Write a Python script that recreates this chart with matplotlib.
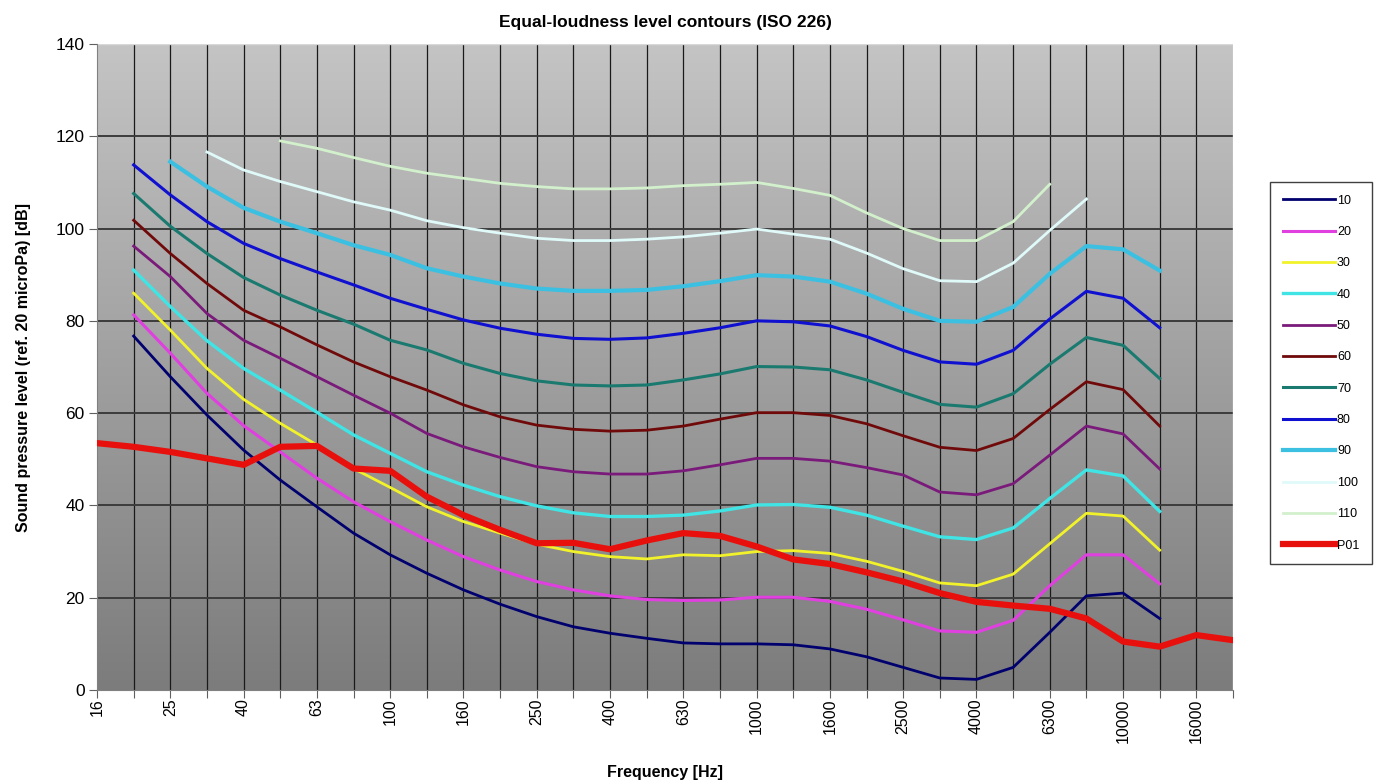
#######################################
###     Equal-loudness contours (ISO 226) with measured P01 curve
#######################################
import numpy as np
import matplotlib
matplotlib.use("Agg")
import matplotlib.pyplot as plt
from matplotlib.colors import LinearSegmentedColormap

### Frequency categories (x axis is a category axis, one slot per third octave)
freq_labels = ['16', '20', '25', '31.5', '40', '50', '63', '80', '100', '125', '160',
               '200', '250', '315', '400', '500', '630', '800', '1000', '1250', '1600',
               '2000', '2500', '3150', '4000', '5000', '6300', '8000', '10000', '12500',
               '16000', '20000']

### Contour values (dB), each starts at the given frequency
phon10 = [76.7, 67.9, 59.6, 52.0, 45.5, 39.7, 34.0, 29.3, 25.3, 21.7, 18.6, 15.9, 13.7,
          12.3, 11.2, 10.2, 10.0, 10.0, 9.8, 8.9, 7.2, 4.9, 2.6, 2.3, 4.9, 12.5, 20.4, 21.0, 15.5]
phon20 = [81.3, 73.0, 64.3, 57.3, 51.6, 45.9, 40.8, 36.5, 32.5, 28.9, 26.0, 23.5, 21.7,
          20.4, 19.6, 19.4, 19.5, 20.1, 20.1, 19.2, 17.5, 15.2, 12.8, 12.5, 15.1, 22.6, 29.3, 29.3, 23.0]
phon30 = [86.0, 78.0, 69.7, 63.0, 57.8, 53.1, 48.0, 43.9, 39.7, 36.5, 34.0, 31.6, 30.0,
          28.9, 28.4, 29.3, 29.1, 30.0, 30.2, 29.6, 27.9, 25.7, 23.2, 22.6, 25.1, 31.7, 38.3, 37.7, 30.3]
phon40 = [91.0, 83.1, 75.7, 69.7, 65.0, 60.2, 55.3, 51.3, 47.3, 44.4, 41.9, 39.9, 38.4,
          37.6, 37.6, 37.9, 38.8, 40.1, 40.2, 39.6, 37.9, 35.5, 33.2, 32.6, 35.1, 41.5, 47.7, 46.4, 38.7]
phon50 = [96.2, 89.6, 81.6, 75.8, 71.9, 67.9, 63.9, 60.0, 55.6, 52.7, 50.4, 48.4, 47.3,
          46.8, 46.8, 47.5, 48.8, 50.2, 50.2, 49.6, 48.2, 46.6, 42.9, 42.3, 44.7, 50.9, 57.2, 55.5, 47.9]
phon60 = [101.8, 94.6, 88.1, 82.3, 78.7, 74.8, 71.1, 67.9, 65.0, 61.8, 59.2, 57.4, 56.5,
          56.1, 56.3, 57.2, 58.7, 60.1, 60.1, 59.5, 57.7, 55.1, 52.6, 51.9, 54.5, 60.8, 66.8, 65.1, 57.2]
phon70 = [107.6, 100.5, 94.6, 89.4, 85.6, 82.3, 79.3, 75.8, 73.7, 70.8, 68.6, 67.0, 66.1,
          65.9, 66.1, 67.2, 68.5, 70.1, 70.0, 69.4, 67.2, 64.5, 61.9, 61.3, 64.2, 70.6, 76.4, 74.7, 67.5]
phon80 = [113.8, 107.3, 101.5, 96.8, 93.5, 90.6, 87.8, 84.9, 82.5, 80.2, 78.4, 77.1, 76.2,
          76.0, 76.3, 77.3, 78.5, 80.0, 79.8, 78.9, 76.6, 73.6, 71.1, 70.6, 73.6, 80.4, 86.4, 84.9, 78.5]
phon90 = [114.5, 109.1, 104.5, 101.5, 99.0, 96.4, 94.3, 91.4, 89.6, 88.1, 87.0, 86.5,
          86.5, 86.7, 87.5, 88.6, 89.9, 89.6, 88.5, 85.9, 82.6, 80.0, 79.8, 83.0, 90.2, 96.2, 95.5, 90.9]
phon100 = [116.6, 112.7, 110.2, 108.0, 105.8, 104.0, 101.7, 100.2, 99.0, 97.9, 97.4, 97.4,
           97.7, 98.2, 99.0, 99.9, 98.8, 97.7, 94.7, 91.3, 88.7, 88.5, 92.5, 99.6, 106.4]
phon110 = [119.0, 117.4, 115.4, 113.5, 112.0, 110.9, 109.8, 109.1, 108.6, 108.6, 108.8,
           109.3, 109.6, 110.0, 108.7, 107.2, 103.4, 100.0, 97.4, 97.4, 101.5, 109.6]
p01 = [53.5, 52.7, 51.6, 50.2, 48.8, 52.7, 52.9, 48.0, 47.5, 41.9, 37.9, 34.7, 31.8, 31.9,
       30.5, 32.4, 34.0, 33.4, 31.1, 28.3, 27.3, 25.5, 23.5, 21.0, 19.1, 18.3, 17.6, 15.5,
       10.5, 9.4, 11.9, 10.8]

### series: (label, values, first frequency, colour, linewidth)
series = [
    ('10', phon10, '20', '#00006e', 2.0),
    ('20', phon20, '20', '#e040e0', 2.2),
    ('30', phon30, '20', '#f2f22a', 2.0),
    ('40', phon40, '20', '#40e4e4', 2.4),
    ('50', phon50, '20', '#7a1a7a', 2.0),
    ('60', phon60, '20', '#700a0a', 2.0),
    ('70', phon70, '20', '#1a7a70', 2.2),
    ('80', phon80, '20', '#1010d0', 2.2),
    ('90', phon90, '25', '#3cc0e2', 3.0),
    ('100', phon100, '31.5', '#e0fafa', 2.0),
    ('110', phon110, '50', '#d2f0cc', 2.0),
    ('P01', p01, '16', '#e8100c', 4.5),
]

plt.rcParams['font.family'] = ['Liberation Sans', 'DejaVu Sans']

fig = plt.figure(figsize=(13.81, 7.82), dpi=100)
ax = fig.add_axes([97 / 1381, 1 - 690 / 782, (1233 - 97) / 1381, (690 - 44) / 782])

n_cat = len(freq_labels) - 1

### gradient background of the plot area
grad = np.linspace(0, 1, 256).reshape(-1, 1)
bg_cmap = LinearSegmentedColormap.from_list('bg', ['#c4c4c4', '#7c7c7c'])
ax.imshow(grad, cmap=bg_cmap, extent=[0, n_cat, 0, 140], aspect='auto', zorder=0)

### grid: black line at each category, dark gray every 20 dB
for i in range(1, n_cat):
    ax.axvline(i, color='#1a1a1a', lw=0.9, zorder=1)
for yv in range(20, 140, 20):
    ax.axhline(yv, color='#3c3c3c', lw=1.4, zorder=1)
ax.axhline(140, color='#d8d8d8', lw=1.0, zorder=1)
ax.axvline(n_cat, color='#d8d8d8', lw=1.0, zorder=1)

### draw curves
for label, vals, start, col, lw in series:
    i0 = freq_labels.index(start)
    x = np.arange(i0, i0 + len(vals))
    ax.plot(x, vals, color=col, lw=lw, label=label, zorder=3, solid_joinstyle='round')

ax.set_xlim(0, n_cat)
ax.set_ylim(0, 140)
ax.set_xticks(range(0, n_cat + 1))
ax.set_xticklabels([lab if k % 2 == 0 else '' for k, lab in enumerate(freq_labels)],
                   rotation=90, fontsize=11.5)
ax.set_yticks(range(0, 141, 20))
ax.tick_params(axis='y', labelsize=12.5, length=6, color='#606060', pad=3)
ax.tick_params(axis='x', length=6, color='#606060', pad=0)
for side in ('top', 'right'):
    ax.spines[side].set_visible(False)
ax.spines['left'].set_color('#808080')
ax.spines['bottom'].set_color('#808080')

ax.set_title('Equal-loudness level contours (ISO 226)', fontsize=12.5, fontweight='bold', pad=12)
ax.set_xlabel('Frequency [Hz]', fontsize=11.5, fontweight='bold', labelpad=16)
ax.set_ylabel('Sound pressure level (ref. 20 microPa) [dB]', fontsize=11.5, fontweight='bold', labelpad=18)

leg = fig.legend(loc='upper left', bbox_to_anchor=(1270 / 1381, 1 - 182 / 782),
                 fontsize=9, handlelength=4.2, handletextpad=0.15, labelspacing=1.55,
                 borderpad=1.0, fancybox=False, framealpha=1, edgecolor='#404040',
                 borderaxespad=0)
leg.get_frame().set_linewidth(1.0)

plt.savefig('out.png', dpi=100)
